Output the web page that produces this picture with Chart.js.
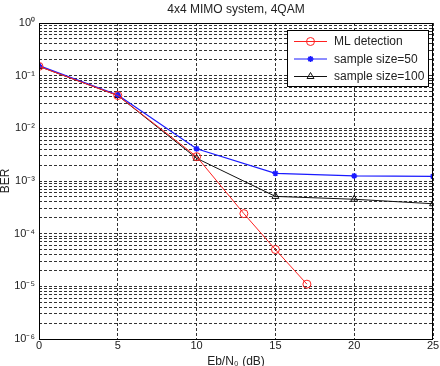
<!DOCTYPE html>
<html><head><meta charset="utf-8">
<script src="https://cdn.jsdelivr.net/npm/chart.js@4"></script>
<style>html,body{margin:0;padding:0;background:#fff;}canvas{display:block;}</style>
</head><body>
<canvas id="c" width="440" height="366"></canvas>
<script>
const chartTitle = '4x4 MIMO system, 4QAM';
const xTitle = 'Eb/N\u2080 (dB)';
const yTitle = 'BER';
const snr = [0, 5, 10, 15, 20, 25];
const mlSnr = [0, 5, 10, 13, 15, 17];
const mlBer = [0.15, 0.042, 0.0029, 0.00024, 0.00005, 0.000011];
const s50Ber = [0.155, 0.043, 0.0041, 0.0014, 0.00125, 0.00122];
const s100Ber = [0.15, 0.042, 0.0027, 0.00051, 0.00045, 0.00037];
const seriesNames = ['ML detection', 'sample size=50', 'sample size=100'];
const xTicks = [0, 5, 10, 15, 20, 25];
const yDecades = [-6, -5, -4, -3, -2, -1, 0];

const sup = {'0':'\u2070','1':'\u00b9','2':'\u00b2','3':'\u00b3','4':'\u2074','5':'\u2075','6':'\u2076','7':'\u2077','8':'\u2078','9':'\u2079','-':'\u207b'};
function powLabel(e){ return '10' + String(e).split('').map(c=>sup[c]).join(''); }

const pts = (xs, ys) => xs.map((x,i)=>({x, y: ys[i]}));
const FONT = "'Liberation Sans', Arial, sans-serif";
const TXT = '#222';

const overlay = {
  id: 'overlay',
  afterDraw(chart){
    const ctx = chart.ctx, a = chart.chartArea;
    ctx.save();
    // frame
    ctx.strokeStyle = '#000'; ctx.lineWidth = 1;
    ctx.strokeRect(Math.round(a.left)+0.5, Math.round(a.top)+0.5, Math.round(a.right-a.left)-1, Math.round(a.bottom-a.top));
    // title
    ctx.fillStyle = TXT; ctx.font = '12px ' + FONT;
    ctx.textAlign = 'center'; ctx.textBaseline = 'middle';
    ctx.fillText(chartTitle, (a.left + a.right)/2, 10);
    // legend
    const bx = 287.5, by = 30.5, bw = 141, bh = 56;
    ctx.fillStyle = '#fff'; ctx.fillRect(bx, by, bw, bh);
    ctx.strokeStyle = '#000'; ctx.strokeRect(bx, by, bw, bh);
    chart.data.datasets.forEach((ds, i) => {
      const y = 41.5 + i*17.5;
      ctx.strokeStyle = ds.borderColor; ctx.lineWidth = 1;
      ctx.beginPath(); ctx.moveTo(294, y); ctx.lineTo(327, y); ctx.stroke();
      ctx.fillStyle = ds.pointBackgroundColor;
      ctx.lineWidth = ds.pointBorderWidth;
      Chart.helpers.drawPoint(ctx, {pointStyle: ds.pointStyle, radius: ds.pointRadius, borderWidth: ds.pointBorderWidth, rotation: 0}, 310.5, y);
      ctx.fillStyle = TXT; ctx.font = '12px ' + FONT;
      ctx.textAlign = 'left'; ctx.textBaseline = 'middle';
      ctx.fillText(ds.label, 334, y + 0.5);
    });
    ctx.restore();
  }
};

new Chart(document.getElementById('c'), {
  type: 'line',
  data: {
    datasets: [
      {label: seriesNames[0], data: pts(mlSnr, mlBer), borderColor: '#ff2020', backgroundColor: 'rgba(0,0,0,0)', borderWidth: 1, pointStyle: 'circle', pointRadius: 4, pointBorderWidth: 1, pointBackgroundColor: 'rgba(0,0,0,0)', tension: 0},
      {label: seriesNames[1], data: pts(snr, s50Ber), borderColor: '#1a1aff', backgroundColor: 'rgba(0,0,0,0)', borderWidth: 1.2, pointStyle: 'star', pointRadius: 3, pointBorderWidth: 1.5, pointBackgroundColor: '#1a1aff', tension: 0},
      {label: seriesNames[2], data: pts(snr, s100Ber), borderColor: '#111', backgroundColor: 'rgba(0,0,0,0)', borderWidth: 1, pointStyle: 'triangle', pointRadius: 4, pointBorderWidth: 1, pointBackgroundColor: 'rgba(0,0,0,0)', tension: 0}
    ]
  },
  options: {
    responsive: false, animation: false,
    layout: {padding: {top: 23, right: 7, left: 0, bottom: 0}},
    plugins: {legend: {display: false}, title: {display: false}, tooltip: {enabled: false}},
    scales: {
      x: {
        type: 'linear', min: 0, max: 25,
        afterBuildTicks: s => { s.ticks = xTicks.map(v => ({value: v})); },
        ticks: {autoSkip: false, maxRotation: 0, padding: 0, color: TXT, font: {family: FONT, size: 11}},
        grid: {color: '#333', lineWidth: 1, drawTicks: false},
        border: {display: false, dash: [3, 2]},
        title: {display: true, text: xTitle, color: TXT, font: {family: FONT, size: 12, lineHeight: 1}, padding: {top: 0, bottom: -2}},
        afterFit: s => { s.height = 27; }
      },
      y: {
        type: 'logarithmic', min: 1e-6, max: 1,
        afterBuildTicks: s => {
          const t = [];
          yDecades.forEach(e => {
            const m = e === 0 ? [1] : [1,2,3,4,5,6,7,8,9];
            m.forEach(k => t.push({value: k * Math.pow(10, e)}));
          });
          s.ticks = t;
        },
        ticks: {
          autoSkip: false, padding: 4, color: TXT, font: {family: FONT, size: 11},
          callback: v => { const e = Math.log10(v); return Math.abs(e - Math.round(e)) < 1e-9 ? powLabel(Math.round(e)) : ''; }
        },
        grid: {color: '#333', lineWidth: 1, drawTicks: false},
        border: {display: false, dash: [3, 2]},
        title: {display: true, text: yTitle, color: TXT, font: {family: FONT, size: 12, lineHeight: 1}, padding: 0},
        afterFit: s => { s.width = 39; }
      }
    }
  },
  plugins: [overlay]
});
</script>
</body></html>
